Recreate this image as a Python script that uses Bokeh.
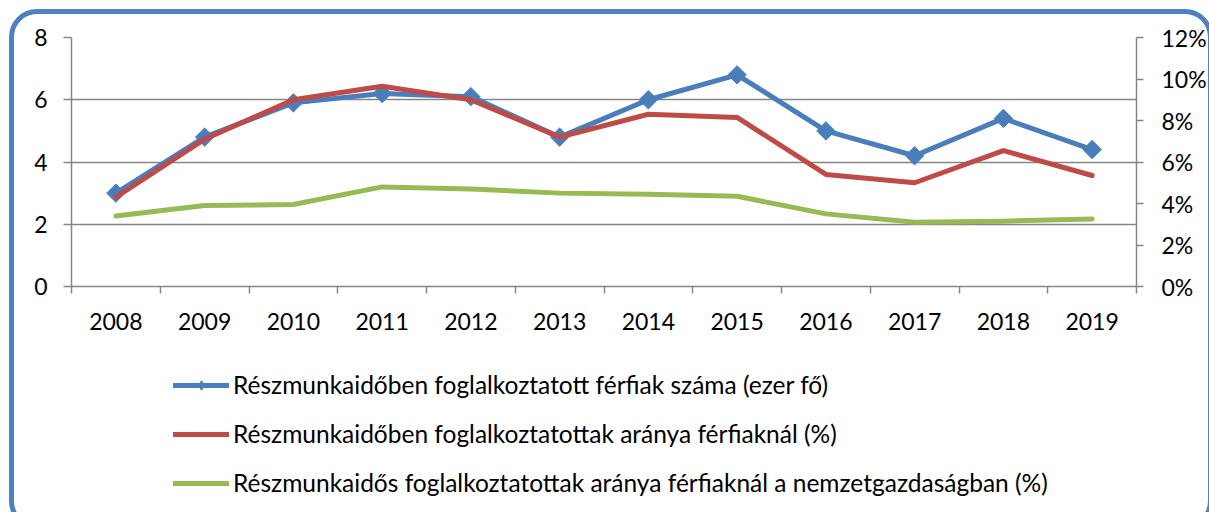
import numpy as np
from bokeh.plotting import figure
from bokeh.layouts import column
from bokeh.models import (Range1d, LinearAxis, FixedTicker, PrintfTickFormatter,
                          Legend, LegendItem, InlineStyleSheet)
from bokeh.embed import file_html
from bokeh.resources import INLINE

# ---- data ----
years = [2008, 2009, 2010, 2011, 2012, 2013, 2014, 2015, 2016, 2017, 2018, 2019]
men_parttime_thousand = [3.0, 4.8, 5.9, 6.2, 6.1, 4.8, 6.0, 6.8, 5.0, 4.2, 5.4, 4.4]
men_parttime_share_pct = [4.3, 7.1, 9.0, 9.65, 9.0, 7.2, 8.3, 8.15, 5.4, 5.0, 6.55, 5.35]
economy_parttime_share_pct = [3.4, 3.9, 3.95, 4.8, 4.7, 4.5, 4.45, 4.35, 3.5, 3.1, 3.15, 3.25]
year_edges = [2007.5 + i for i in range(13)]
left_ticks = [0, 2, 4, 6, 8]
right_ticks = [0, 2, 4, 6, 8, 10, 12]
series_labels = [
    "Részmunkaidőben foglalkoztatott férfiak száma (ezer fő)",
    "Részmunkaidőben foglalkoztatottak aránya férfiaknál (%)",
    "Részmunkaidős foglalkoztatottak aránya férfiaknál a nemzetgazdaságban (%)",
]

FONT = "Lato"
BLUE = "#4A7EBB"
RED = "#BE4B48"
GREEN = "#98B954"
GRAY = "#868686"
TICK_FS = "23px"

# ---------------- chart ----------------
p = figure(width=1209, height=346, output_backend="svg", toolbar_location=None,
           x_range=Range1d(2007.5, 2019.5), y_range=Range1d(0, 8),
           min_border_left=71, min_border_right=70, min_border_top=37,
           min_border_bottom=60)
p.outline_line_color = None
p.background_fill_color = "white"
p.border_fill_color = "white"
p.extra_y_ranges = {"pct": Range1d(0, 12)}

xa = p.xaxis[0]
xa.ticker = FixedTicker(ticks=years, minor_ticks=year_edges)
xa.formatter = PrintfTickFormatter(format="%d")
xa.major_tick_out = 0
xa.major_tick_in = 0
xa.minor_tick_out = 7
xa.minor_tick_in = 0
xa.minor_tick_line_color = GRAY
xa.minor_tick_line_width = 1.5
xa.axis_line_color = GRAY
xa.axis_line_width = 1.5
xa.major_label_standoff = 19
xa.major_label_text_font = FONT
xa.major_label_text_font_size = TICK_FS
xa.major_label_text_color = "black"

ya = p.yaxis[0]
ya.ticker = FixedTicker(ticks=left_ticks)
ya.major_tick_out = 8
ya.major_tick_in = 0
ya.minor_tick_out = 0
ya.minor_tick_in = 0
ya.major_tick_line_color = GRAY
ya.major_tick_line_width = 1.5
ya.axis_line_color = GRAY
ya.axis_line_width = 1.5
ya.major_label_standoff = 16
ya.major_label_text_font = FONT
ya.major_label_text_font_size = TICK_FS
ya.major_label_text_color = "black"

ra = LinearAxis(y_range_name="pct", ticker=FixedTicker(ticks=right_ticks),
                formatter=PrintfTickFormatter(format="%d%%"))
ra.major_tick_out = 7
ra.major_tick_in = 0
ra.minor_tick_out = 0
ra.minor_tick_in = 0
ra.major_tick_line_color = GRAY
ra.major_tick_line_width = 1.5
ra.axis_line_color = GRAY
ra.axis_line_width = 1.5
ra.major_label_standoff = 18
ra.major_label_text_font = FONT
ra.major_label_text_font_size = TICK_FS
ra.major_label_text_color = "black"
p.add_layout(ra, "right")

p.xgrid.visible = False
p.ygrid.ticker = FixedTicker(ticks=left_ticks)
p.ygrid.grid_line_color = GRAY
p.ygrid.grid_line_width = 1.5

p.line(years, men_parttime_thousand, line_color=BLUE, line_width=5,
       line_cap="round", line_join="round")
p.scatter(years, men_parttime_thousand, marker="square", angle=np.pi / 4,
          size=13, fill_color=BLUE, line_color=BLUE)
p.line(years, men_parttime_share_pct, y_range_name="pct", line_color=RED,
       line_width=5, line_cap="round", line_join="round")
p.line(years, economy_parttime_share_pct, y_range_name="pct", line_color=GREEN,
       line_width=5, line_cap="round", line_join="round")

# ---------------- legend strip ----------------
# same series, drawn in a strip whose x-range lies outside the data, so only
# the legend swatches are visible
q = figure(width=1209, height=166, output_backend="svg", toolbar_location=None,
           x_range=Range1d(3000, 3001), y_range=Range1d(0, 12),
           min_border_left=0, min_border_right=0, min_border_top=0,
           min_border_bottom=0, x_axis_location=None, y_axis_location=None)
q.outline_line_color = None
q.grid.visible = False
q.background_fill_color = "white"
q.border_fill_color = "white"

lb = q.line(years, men_parttime_thousand, line_color=BLUE, line_width=5,
            line_cap="round")
lbm = q.scatter(years, men_parttime_thousand, marker="diamond", size=17,
                fill_color=BLUE, line_color=BLUE)
lr = q.line(years, men_parttime_share_pct, line_color=RED, line_width=5,
            line_cap="round")
lg = q.line(years, economy_parttime_share_pct, line_color=GREEN, line_width=5,
            line_cap="round")

legend = Legend(items=[
    LegendItem(label=series_labels[0], renderers=[lb, lbm]),
    LegendItem(label=series_labels[1], renderers=[lr]),
    LegendItem(label=series_labels[2], renderers=[lg]),
], location=(102, 15), border_line_color=None, background_fill_alpha=0,
    padding=0, margin=0, spacing=20, glyph_width=56, glyph_height=24,
    label_height=24, label_standoff=4, label_text_font=FONT,
    label_text_font_size="24.5px", label_text_color="black")
q.add_layout(legend)

layout = column(p, q, spacing=0)
# rounded frame around the whole chart (pure decoration)
layout.stylesheets = [InlineStyleSheet(css="""
:host { position: relative; }
:host::after {
  content: ""; position: absolute; left: 9px; top: 9px;
  width: 1204px; height: 520px; box-sizing: border-box;
  border: 5.5px solid #4F81BD; border-radius: 28px; pointer-events: none;
}
""")]

open("out.html", "w").write(file_html(layout, INLINE))
